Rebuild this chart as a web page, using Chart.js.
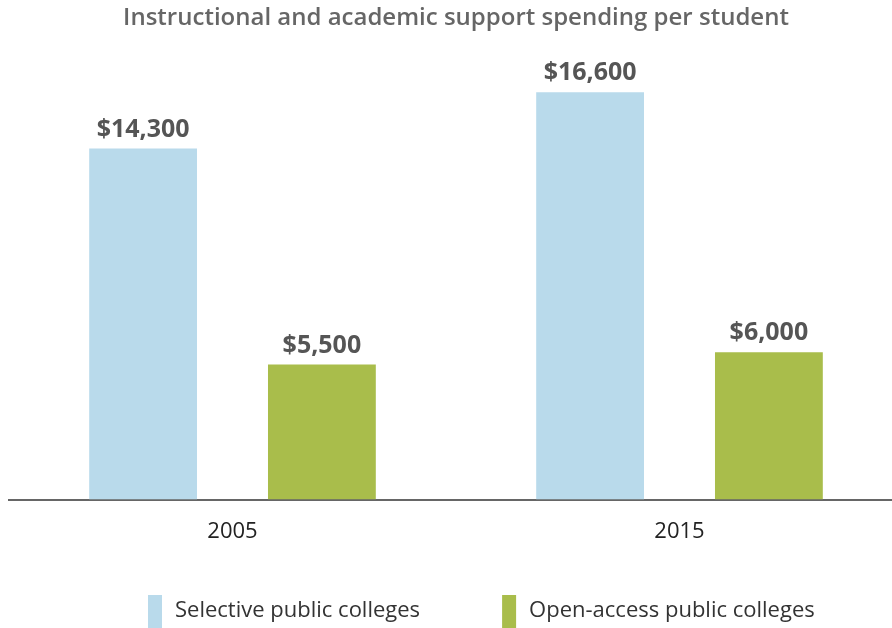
<!DOCTYPE html>
<html>
<head>
<meta charset="utf-8">
<title>Instructional and academic support spending per student</title>
<script src="https://cdn.jsdelivr.net/npm/chart.js@4"></script>
<style>
  html, body { margin: 0; padding: 0; background: #fff; overflow: hidden; }
  #wrap { position: relative; width: 904px; height: 628px; }
</style>
</head>
<body>
<div id="wrap"><canvas id="spendChart"></canvas></div>
<script>
const years = ['2005', '2015'];
const selective = [14300, 16600];
const openAccess = [5500, 6000];
const seriesNames = ['Selective public colleges', 'Open-access public colleges'];

const FONT = "'Open Sans', 'DejaVu Sans', sans-serif";

// dollar labels above each bar
const valueLabels = {
    id: 'valueLabels',
    afterDatasetsDraw(chart) {
        const ctx = chart.ctx;
        ctx.save();
        ctx.font = 'bold 25px ' + FONT;
        ctx.fillStyle = '#555555';
        ctx.textAlign = 'center';
        ctx.textBaseline = 'middle';
        chart.data.datasets.forEach((ds, i) => {
            chart.getDatasetMeta(i).data.forEach((bar, j) => {
                ctx.fillText('$' + ds.data[j].toLocaleString('en-US'), bar.x, bar.y - 19);
            });
        });
        ctx.restore();
    }
};

// legend row with tall swatches at the bottom
const swatchLegend = {
    id: 'swatchLegend',
    afterDraw(chart) {
        const ctx = chart.ctx;
        ctx.save();
        ctx.font = '22px ' + FONT;
        ctx.textBaseline = 'middle';
        ctx.textAlign = 'left';
        let x = 148;
        chart.data.datasets.forEach(ds => {
            ctx.fillStyle = ds.backgroundColor;
            ctx.fillRect(x, 595, 14, 34);
            ctx.fillStyle = '#333333';
            ctx.fillText(ds.label, x + 27, 611);
            x += 27 + ctx.measureText(ds.label).width + 82;
        });
        ctx.restore();
    }
};

new Chart(document.getElementById('spendChart'), {
    type: 'bar',
    data: {
        labels: years,
        datasets: [
            { label: seriesNames[0], data: selective, backgroundColor: '#b9daeb' },
            { label: seriesNames[1], data: openAccess, backgroundColor: '#a9bd4b' }
        ]
    },
    options: {
        responsive: true,
        maintainAspectRatio: false,
        animation: false,
        categoryPercentage: 0.8,
        barPercentage: 0.603,
        layout: { padding: { left: 9, right: 1, bottom: 64 } },
        plugins: {
            legend: { display: false },
            tooltip: { enabled: false },
            title: {
                display: true,
                text: 'Instructional and academic support spending per student',
                color: '#666666',
                font: { family: FONT, size: 24, weight: '600' },
                padding: { top: 4, bottom: 25 }
            }
        },
        scales: {
            x: {
                grid: { display: false, drawTicks: false },
                border: { display: true, color: '#666666', width: 2 },
                ticks: { color: '#222222', font: { family: FONT, size: 22 }, padding: 19 }
            },
            y: {
                display: false,
                min: 0,
                max: 18000
            }
        }
    },
    plugins: [valueLabels, swatchLegend]
});
</script>
</body>
</html>
